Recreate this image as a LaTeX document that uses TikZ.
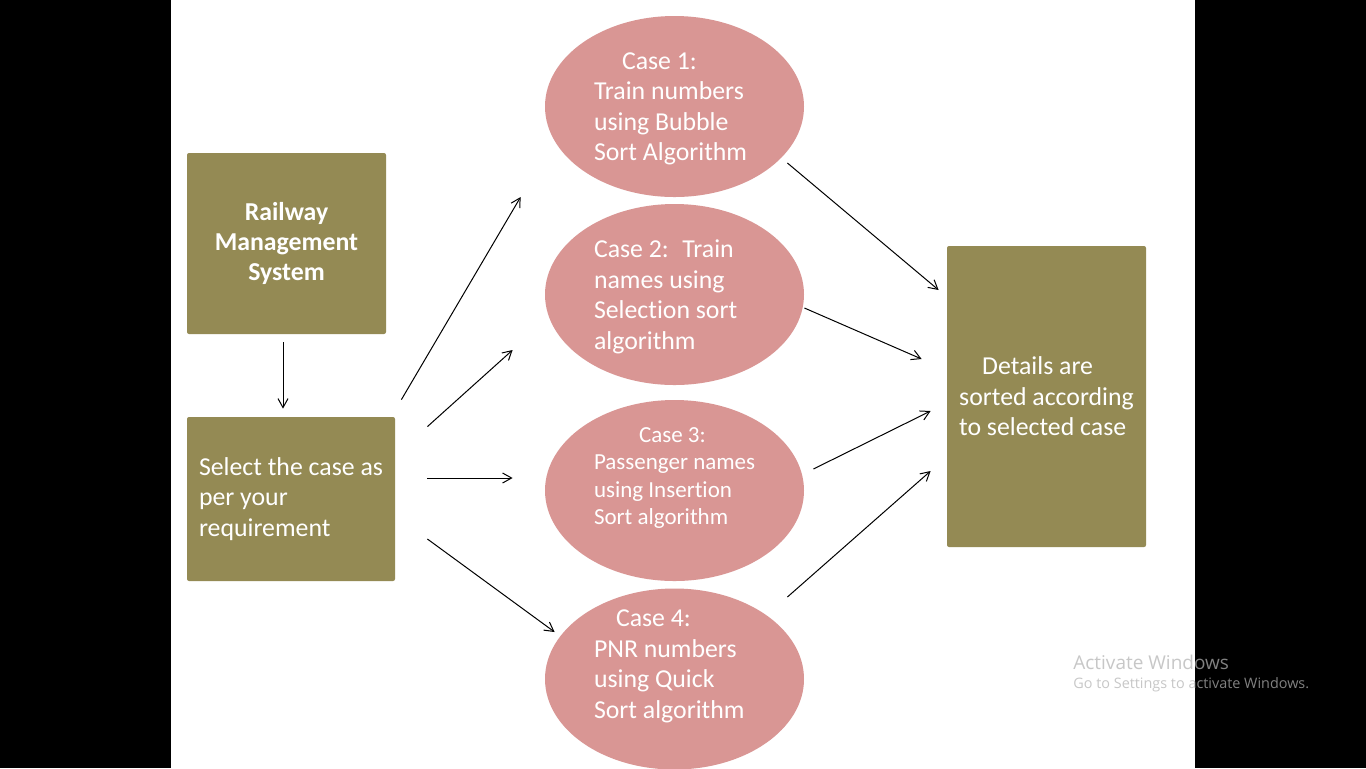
\documentclass[tikz,border=0pt]{standalone}
\usepackage{fontspec}
\setmainfont{Carlito}[Ligatures=NoCommon]
\newfontfamily\winfont{Open Sans}
\usetikzlibrary{shapes.geometric, arrows.meta, positioning}
\definecolor{olivebox}{HTML}{948A54}
\definecolor{pinkcase}{HTML}{D99694}
\definecolor{watermark}{gray}{0.70}
\tikzstyle{block} = [rectangle, fill=olivebox, rounded corners=1pt, inner sep=0pt, text=white, align=left, font=\fontsize{12.9}{15.25}\selectfont]
\tikzstyle{case} = [ellipse, fill=pinkcase, minimum width=129.5pt, minimum height=90.5pt, inner sep=0pt]
\tikzstyle{casetext} = [text=white, align=left, inner sep=0pt, font=\fontsize{12.9}{15.25}\selectfont]
\tikzstyle{smallcase} = [font=\fontsize{11.5}{13.7}\selectfont]
\tikzstyle{winmark} = [anchor=west, inner sep=0pt, text=watermark, text opacity=0.725]
\tikzstyle{arrow} = [line width=0.5pt, -{Straight Barb[length=4.5pt,width=5pt]}]

\begin{document}
\begin{tikzpicture}[x=0.5pt, y=-0.5pt]
        \clip (0,0) rectangle (1366,768);
        \fill[black] (0,0) rectangle (1366,768);
        \fill[white] (171,0) rectangle (1195,768);

        % boxes
        \node (rms) [block, minimum width=99.5pt, minimum height=90.5pt, align=center, font=\bfseries\fontsize{12.9}{15}\selectfont] at (286.5,243.5) {Railway\\ Management\\ System};
        \node (select) [block, minimum width=104pt, minimum height=82pt] at (291,499) {Select the case as\\ per your\\ requirement};
        \node (result) [block, minimum width=99.5pt, minimum height=150.5pt] at (1046.5,396.5) {\hspace*{11.5pt}Details are\\ sorted according\\ to selected case};

        % cases
        \node (c1) [case] at (674.5,106.5) {};
        \node (c2) [case] at (674.5,294.5) {};
        \node (c3) [case] at (674.5,490.5) {};
        \node (c4) [case] at (674.5,679) {};
        \node (c1text) [casetext, right=24.5pt of c1.west, yshift=-1.25pt] {\hspace*{14pt}Case 1:\\ Train numbers\\ using Bubble\\ Sort Algorithm};
        \node (c2text) [casetext, right=24.5pt of c2.west, yshift=-1.25pt] {Case 2:~ Train\\ names using\\ Selection sort\\ algorithm};
        \node (c3text) [casetext, smallcase, right=24.5pt of c3.west, yshift=6.25pt] {\hspace*{22.5pt}Case 3:\\ Passenger names\\ using Insertion\\ Sort algorithm};
        \node (c4text) [casetext, right=24.5pt of c4.west, yshift=6.25pt] {\hspace*{11pt}Case 4:\\ PNR numbers\\ using Quick\\ Sort algorithm};

        \node (act) [winmark, font=\winfont\fontsize{9.5}{11}\selectfont] at (1073,662) {Activate Windows};
        \node (goto) [winmark, font=\winfont\fontsize{7.2}{8.6}\selectfont] at (1073,685) {Go to Settings to activate Windows.};

        \draw [arrow] ([shift={(-3.5,8)}]rms.south) -- ([shift={(-8,-8)}]select.north);
        \draw [arrow] ([shift={(6,-17)}]select.north east) -- ([shift={(-24,90.5)}]c1.west);
        \draw [arrow] ([shift={(32,10)}]select.north east) -- ([shift={(-32,55.5)}]c2.west);
        \draw [arrow] ([shift={(32,-21)}]select.east) -- ([shift={(-32,-12.5)}]c3.west);
        \draw [arrow] ([shift={(32,40)}]select.east) -- ([shift={(10,-47)}]c4.west);
        \draw [arrow] ([shift={(-17,56.5)}]c1.east) -- ([shift={(-8,-106.5)}]result.west);
        \draw [arrow] ([shift={(0,13.5)}]c2.east) -- ([shift={(-25,-37.5)}]result.west);
        \draw [arrow] ([shift={(9,-21.5)}]c3.east) -- ([shift={(-16,14.5)}]result.west);
        \draw [arrow] ([shift={(-17,-82)}]c4.east) -- ([shift={(-16,74.5)}]result.west);
    \end{tikzpicture}
\end{document}
